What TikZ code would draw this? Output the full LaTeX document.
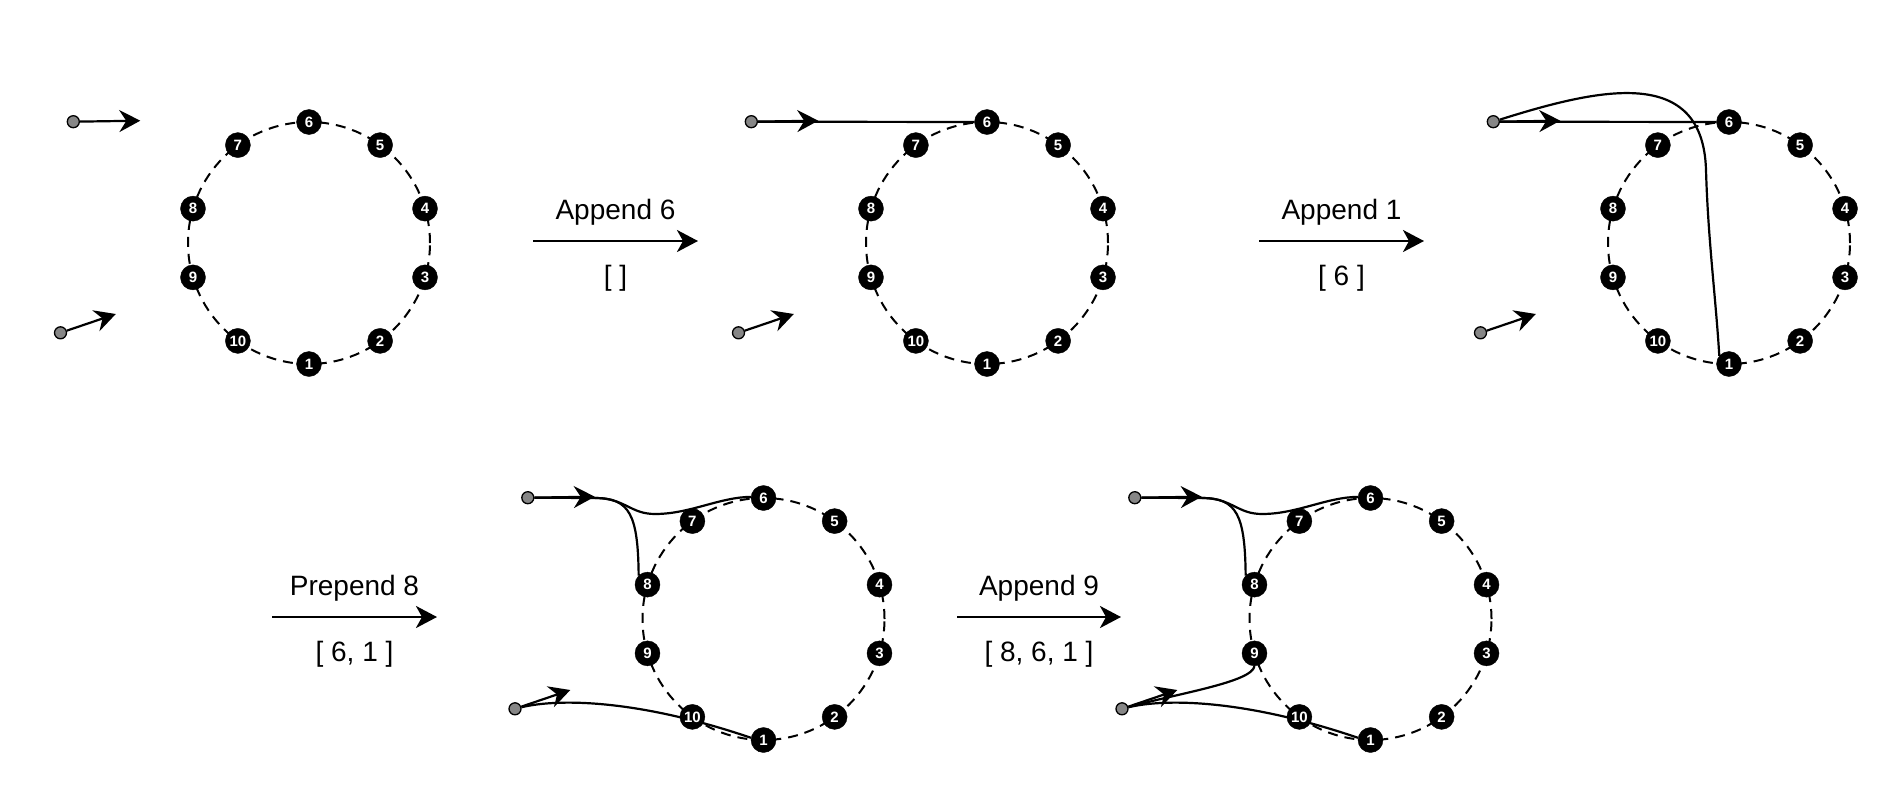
\documentclass[tikz,border=0pt]{standalone}
\usepackage{fontspec}
\setmainfont{Liberation Sans}
\usetikzlibrary{arrows.meta}
\pgfdeclarelayer{bg}
\pgfsetlayers{bg,main}
\tikzset{
  num/.style={circle, fill=black, draw=black, minimum size=25pt, inner sep=0pt, text=white, font=\fontsize{15}{15}\selectfont\bfseries},
  gdot/.style={circle, fill=gray!95, draw=black, line width=1.3pt, minimum size=12pt, inner sep=0pt},
  ring/.style={line width=2pt, dash pattern=on 10pt off 7pt},
  ptr/.style={line width=2.2pt, -{Stealth[length=21pt,width=22pt,inset=7pt]}},
  link/.style={line width=2.2pt},
  trans/.style={line width=2.6pt, -{Stealth[length=21pt,width=22pt,inset=6pt]}},
  lbl/.style={anchor=base, inner sep=0pt, font=\fontsize{28}{28}\selectfont},
}
\newcommand{\ringpanel}[3]{%
  \coordinate (#1c) at (#2,#3);
  \draw[ring] (#1c) circle[radius=121pt];
  \foreach \k/\a in {1/-90,2/-54,3/-16.5,4/16.5,5/54,6/90,7/126,8/163.5,9/196.5,10/234}{
    \node[num] (#1n\k) at ([shift={(\a:121pt)}]#1c) {\k};
  }
  \node[gdot] (#1d1) at ([shift={(-235.7,-121.3)}]#1c) {};
  \node[gdot] (#1d2) at ([shift={(-248.5,89.8)}]#1c) {};
  \coordinate (#1t1) at ([shift={(-168.7,-122.3)}]#1c);
  \coordinate (#1t2) at ([shift={(-193.2,71)}]#1c);
}
\newcommand{\bottomlinks}[1]{%
  \begin{scope}[shift={(#1c)}]
    \draw[link] (#1d1) -- (-168.5,-121) .. controls (-138.5,-121) and (-133.5,-105) .. (-108.5,-105) .. controls (-73.5,-105) and (-43.5,-122) .. (#1n6.175);
    \draw[link] (-168.5,-121) .. controls (-133.5,-121) and (-125.5,-104) .. (#1n8.134);
    \draw[link] (#1d2) .. controls (-203.5,79) and (-123.5,81) .. (#1n1.170);
  \end{scope}}
\begin{document}
\begin{tikzpicture}[x=1pt,y=-1pt]
\useasboundingbox (0,0) rectangle (1904,798);

\ringpanel{p1}{309}{243}
\ringpanel{p2}{987}{243}
\ringpanel{p3}{1729}{243}
\ringpanel{p4}{763.5}{619}
\ringpanel{p5}{1370.5}{619}

\begin{pgfonlayer}{bg}
% panel 2
\draw[link] (p2d1) -- (p2n6);
% panel 3
\draw[link] (p3d1) -- (p3n6);
\begin{scope}[shift={(p3c)}]
  \draw[link] (p3d1) .. controls (-129,-155) and (-26,-178) .. (-23,-73) .. controls (-21,-3) and (-13,57) .. (p3n1.140);
\end{scope}
% panels 4 and 5
\bottomlinks{p4}
\bottomlinks{p5}
\begin{scope}[shift={(p5c)}]
  \draw[link] (p5d2) .. controls (-190.5,74) and (-118.5,63) .. (p5n9.south);
\end{scope}
\end{pgfonlayer}

% pointers
\draw[ptr] (p1d1) -- (p1t1); \draw[ptr] (p1d2) -- (p1t2);
\draw[ptr] (p2d1) -- (p2t1); \draw[ptr] (p2d2) -- (p2t2);
\draw[ptr] (p3d1) -- (p3t1); \draw[ptr] (p3d2) -- (p3t2);
\draw[ptr] (p4d1) -- (p4t1); \draw[ptr] (p4d2) -- (p4t2);
\draw[ptr] (p5d1) -- (p5t1); \draw[ptr] (p5d2) -- (p5t2);

% transitions
\coordinate (a1s) at (533,241); \coordinate (a1e) at (698,241);
\draw[trans] (a1s) -- (a1e);
\node[lbl] (a1top) at (615.5,219) {Append 6};
\node[lbl] (a1bot) at (615.5,285) {[ ]};

\coordinate (a2s) at (1259,241); \coordinate (a2e) at (1424,241);
\draw[trans] (a2s) -- (a2e);
\node[lbl] (a2top) at (1341.5,219) {Append 1};
\node[lbl] (a2bot) at (1341.5,285) {[ 6 ]};

\coordinate (a3s) at (272,617); \coordinate (a3e) at (437,617);
\draw[trans] (a3s) -- (a3e);
\node[lbl] (a3top) at (354.5,595) {Prepend 8};
\node[lbl] (a3bot) at (354.5,661) {[ 6, 1 ]};

\coordinate (a4s) at (957,617); \coordinate (a4e) at (1121,617);
\draw[trans] (a4s) -- (a4e);
\node[lbl] (a4top) at (1039,595) {Append 9};
\node[lbl] (a4bot) at (1039,661) {[ 8, 6, 1 ]};
\end{tikzpicture}
\end{document}
